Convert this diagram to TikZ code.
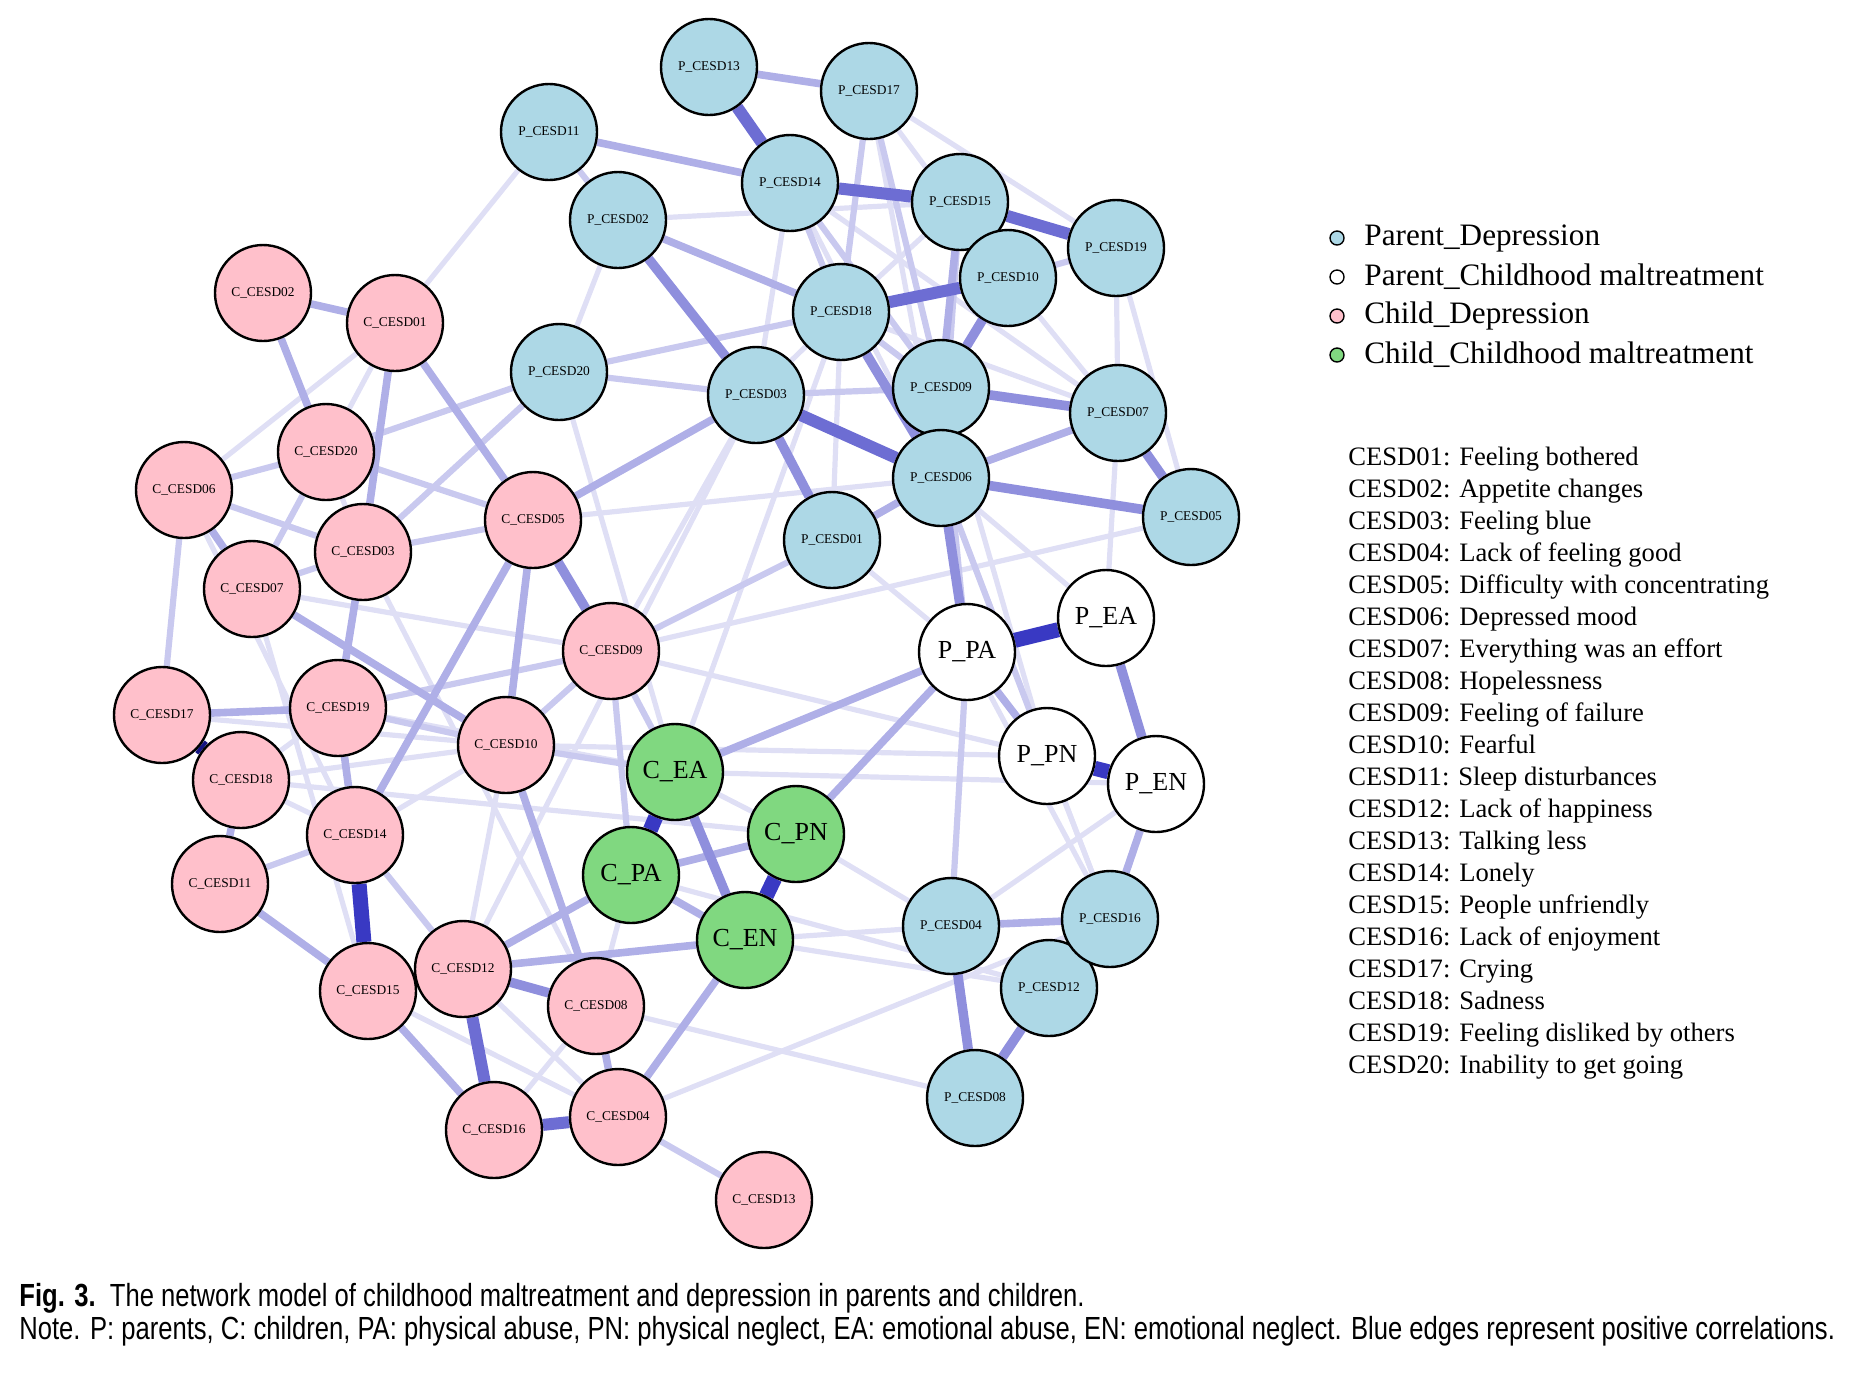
\documentclass[tikz,border=0pt]{standalone}
\usepackage{fontspec}
\setmainfont{Liberation Serif}
\newfontfamily\capfont{Liberation Sans}
\usetikzlibrary{backgrounds}

\definecolor{pdepfill}{RGB}{173,216,230}
\definecolor{cdepfill}{RGB}{255,192,203}
\definecolor{cmalfill}{RGB}{128,216,128}
\definecolor{edgeblue}{RGB}{40,40,190}
\definecolor{edgenavy}{RGB}{20,20,130}

\begin{document}
\begin{tikzpicture}[
    x=0.5pt, y=-0.5pt,
    item/.style={draw, circle, line width=1.2pt, minimum size=48pt, inner sep=0pt, font=\fontsize{6.7}{8}\selectfont},
    pdep/.style={item, fill=pdepfill},
    cdep/.style={item, fill=cdepfill},
    pmal/.style={item, fill=white, font=\fontsize{13}{15}\selectfont},
    cmal/.style={item, fill=cmalfill, font=\fontsize{13}{15}\selectfont},
    efaint/.style={line width=2.6pt, draw=edgeblue!15},
    elight/.style={line width=3.1pt, draw=edgeblue!25},
    emedium/.style={line width=3.8pt, draw=edgeblue!37},
    eheavy/.style={line width=4.8pt, draw=edgeblue!52},
    edeep/.style={line width=6pt, draw=edgeblue!68},
    edark/.style={line width=7.5pt, draw=edgeblue!92},
    legdot/.style={draw, circle, line width=0.7pt, minimum size=7pt, inner sep=0pt},
    legtext/.style={anchor=west, inner sep=0pt, font=\fontsize{15.6}{18}\selectfont}
]
\useasboundingbox (0,0) rectangle (1872,1378);

% Eltern: Depression
\node[pdep] (p13) at (709,67) {P\_CESD13};
\node[pdep] (p17) at (869,91) {P\_CESD17};
\node[pdep] (p11) at (549,132) {P\_CESD11};
\node[pdep] (p14) at (790,183) {P\_CESD14};
\node[pdep] (p15) at (960,202) {P\_CESD15};
\node[pdep] (p19) at (1116,248) {P\_CESD19};
\node[pdep] (p02) at (618,220) {P\_CESD02};
\node[pdep] (p10) at (1008,278) {P\_CESD10};
\node[pdep] (p18) at (841,312) {P\_CESD18};
\node[pdep] (p20) at (559,372) {P\_CESD20};
\node[pdep] (p03) at (756,395) {P\_CESD03};
\node[pdep] (p09) at (941,388) {P\_CESD09};
\node[pdep] (p07) at (1118,413) {P\_CESD07};
\node[pdep] (p06) at (941,478) {P\_CESD06};
\node[pdep] (p05) at (1191,517) {P\_CESD05};
\node[pdep] (p01) at (832,540) {P\_CESD01};
\node[pdep] (p04) at (951,926) {P\_CESD04};
\node[pdep] (p12) at (1049,988) {P\_CESD12};
\node[pdep] (p16) at (1110,919) {P\_CESD16};
\node[pdep] (p08) at (975,1098) {P\_CESD08};

% Eltern: Misshandlung
\node[pmal] (ppa) at (967,652) {P\_PA};
\node[pmal] (pea) at (1106,618) {P\_EA};
\node[pmal] (ppn) at (1047,756) {P\_PN};
\node[pmal] (pen) at (1156,784) {P\_EN};

% Kinder: Depression
\node[cdep] (c02) at (263,293) {C\_CESD02};
\node[cdep] (c01) at (395,323) {C\_CESD01};
\node[cdep] (c20) at (326,452) {C\_CESD20};
\node[cdep] (c06) at (184,490) {C\_CESD06};
\node[cdep] (c05) at (533,520) {C\_CESD05};
\node[cdep] (c03) at (363,552) {C\_CESD03};
\node[cdep] (c07) at (252,589) {C\_CESD07};
\node[cdep] (c09) at (611,651) {C\_CESD09};
\node[cdep] (c17) at (162,715) {C\_CESD17};
\node[cdep] (c19) at (338,708) {C\_CESD19};
\node[cdep] (c10) at (506,745) {C\_CESD10};
\node[cdep] (c18) at (241,780) {C\_CESD18};
\node[cdep] (c14) at (355,835) {C\_CESD14};
\node[cdep] (c11) at (220,884) {C\_CESD11};
\node[cdep] (c15) at (368,991) {C\_CESD15};
\node[cdep] (c12) at (463,969) {C\_CESD12};
\node[cdep] (c08) at (596,1006) {C\_CESD08};
\node[cdep] (c16) at (494,1130) {C\_CESD16};
\node[cdep] (c04) at (618,1117) {C\_CESD04};
\node[cdep] (c13) at (764,1200) {C\_CESD13};

% Kinder: Misshandlung
\node[cmal] (cea) at (675,772) {C\_EA};
\node[cmal] (cpn) at (796,834) {C\_PN};
\node[cmal] (cpa) at (631,875) {C\_PA};
\node[cmal] (cen) at (745,940) {C\_EN};

% Kanten (schwach zuerst)
\begin{scope}[on background layer]
\draw[efaint] (p11) -- (c01);
\draw[efaint] (p14) -- (p03);
\draw[efaint] (p14) -- (p06);
\draw[efaint] (p14) -- (p07);
\draw[efaint] (p17) -- (p06);
\draw[efaint] (p17) -- (p19);
\draw[efaint] (p17) -- (p10);
\draw[efaint] (p15) -- (p18);
\draw[efaint] (p02) -- (p15);
\draw[efaint] (p02) -- (p20);
\draw[efaint] (p19) -- (p07);
\draw[efaint] (p19) -- (p05);
\draw[efaint] (p10) -- (p07);
\draw[efaint] (p18) -- (p03);
\draw[efaint] (p18) -- (p07);
\draw[efaint] (p18) -- (p01);
\draw[efaint] (p18) -- (cea);
\draw[efaint] (p20) -- (cea);
\draw[efaint] (p03) -- (c09);
\draw[efaint] (p03) -- (c12);
\draw[efaint] (p09) -- (ppn);
\draw[efaint] (p07) -- (pea);
\draw[efaint] (p06) -- (pea);
\draw[efaint] (p06) -- (c05);
\draw[efaint] (p06) -- (p16);
\draw[efaint] (p01) -- (ppa);
\draw[efaint] (p05) -- (c09);
\draw[efaint] (pen) -- (p04);
\draw[efaint] (ppn) -- (p16);
\draw[efaint] (ppa) -- (p16);
\draw[efaint] (c08) -- (p08);
\draw[efaint] (c04) -- (p16);
\draw[efaint] (cpa) -- (p12);
\draw[efaint] (cen) -- (p12);
\draw[efaint] (cen) -- (p04);
\draw[efaint] (cpn) -- (p04);
\draw[efaint] (c09) -- (ppn);
\draw[efaint] (c10) -- (ppn);
\draw[efaint] (cea) -- (pen);
\draw[efaint] (cea) -- (cpn);
\draw[efaint] (cea) -- (c19);
\draw[efaint] (cpa) -- (c08);
\draw[efaint] (c18) -- (cpn);
\draw[efaint] (c02) -- (c03);
\draw[efaint] (c01) -- (c06);
\draw[efaint] (c01) -- (c20);
\draw[efaint] (c07) -- (c09);
\draw[efaint] (c07) -- (c15);
\draw[efaint] (c03) -- (c08);
\draw[efaint] (c17) -- (c10);
\draw[efaint] (c18) -- (c19);
\draw[efaint] (c18) -- (c10);
\draw[efaint] (c18) -- (c14);
\draw[efaint] (c06) -- (c14);
\draw[efaint] (c14) -- (c10);
\draw[efaint] (c15) -- (c04);
\draw[efaint] (c12) -- (c04);
\draw[efaint] (c08) -- (c16);
\draw[efaint] (c10) -- (c12);

\draw[elight] (p11) -- (p02);
\draw[elight] (p14) -- (p18);
\draw[elight] (p14) -- (p09);
\draw[elight] (p17) -- (p18);
\draw[elight] (p17) -- (p09);
\draw[elight] (p15) -- (p06);
\draw[elight] (p19) -- (p10);
\draw[elight] (p18) -- (p09);
\draw[elight] (p18) -- (p20);
\draw[elight] (p20) -- (p03);
\draw[elight] (p20) -- (c20);
\draw[elight] (p20) -- (c03);
\draw[elight] (p03) -- (p09);
\draw[elight] (p09) -- (ppa);
\draw[elight] (p06) -- (ppn);
\draw[elight] (p01) -- (c09);
\draw[elight] (ppa) -- (p04);
\draw[elight] (cea) -- (c09);
\draw[elight] (cea) -- (c10);
\draw[elight] (cpa) -- (c09);
\draw[elight] (c20) -- (c06);
\draw[elight] (c20) -- (c05);
\draw[elight] (c20) -- (c07);
\draw[elight] (c06) -- (c03);
\draw[elight] (c06) -- (c17);
\draw[elight] (c07) -- (c03);
\draw[elight] (c03) -- (c05);
\draw[elight] (c09) -- (c10);
\draw[elight] (c09) -- (c19);
\draw[elight] (c19) -- (c10);
\draw[elight] (c14) -- (c11);
\draw[elight] (c14) -- (c12);
\draw[elight] (c15) -- (c12);
\draw[elight] (c04) -- (c13);

\draw[emedium] (p13) -- (p17);
\draw[emedium] (p11) -- (p14);
\draw[emedium] (p15) -- (p09);
\draw[emedium] (p02) -- (p18);
\draw[emedium] (p03) -- (c05);
\draw[emedium] (p07) -- (p06);
\draw[emedium] (p06) -- (p01);
\draw[emedium] (ppa) -- (cea);
\draw[emedium] (ppa) -- (cpn);
\draw[emedium] (ppa) -- (ppn);
\draw[emedium] (pen) -- (p16);
\draw[emedium] (p04) -- (p16);
\draw[emedium] (p16) -- (p12);
\draw[emedium] (cpa) -- (cpn);
\draw[emedium] (cpa) -- (cen);
\draw[emedium] (cpa) -- (c12);
\draw[emedium] (cen) -- (c12);
\draw[emedium] (cen) -- (c04);
\draw[emedium] (c02) -- (c01);
\draw[emedium] (c02) -- (c20);
\draw[emedium] (c01) -- (c03);
\draw[emedium] (c01) -- (c05);
\draw[emedium] (c06) -- (c07);
\draw[emedium] (c07) -- (c10);
\draw[emedium] (c03) -- (c19);
\draw[emedium] (c05) -- (c10);
\draw[emedium] (c05) -- (c14);
\draw[emedium] (c17) -- (c19);
\draw[emedium] (c18) -- (c11);
\draw[emedium] (c19) -- (c14);
\draw[emedium] (c11) -- (c15);
\draw[emedium] (c15) -- (c16);
\draw[emedium] (c10) -- (c08);
\draw[emedium] (c08) -- (c04);

\draw[eheavy] (p02) -- (p03);
\draw[eheavy] (p10) -- (p09);
\draw[eheavy] (p18) -- (p06);
\draw[eheavy] (p03) -- (p01);
\draw[eheavy] (p09) -- (p07);
\draw[eheavy] (p07) -- (p05);
\draw[eheavy] (p06) -- (p05);
\draw[eheavy] (p06) -- (ppa);
\draw[eheavy] (pea) -- (pen);
\draw[eheavy] (p04) -- (p08);
\draw[eheavy] (p12) -- (p08);
\draw[eheavy] (cea) -- (cen);
\draw[eheavy] (c05) -- (c09);
\draw[eheavy] (c12) -- (c08);

\draw[edeep] (p13) -- (p14);
\draw[edeep] (p14) -- (p15);
\draw[edeep] (p15) -- (p19);
\draw[edeep] (p10) -- (p18);
\draw[edeep] (p03) -- (p06);
\draw[edeep] (c12) -- (c16);
\draw[edeep] (c16) -- (c04);

\draw[edark] (ppa) -- (pea);
\draw[edark] (ppn) -- (pen);
\draw[edark] (cea) -- (cpa);
\draw[edark] (cpn) -- (cen);
\draw[edark] (c14) -- (c15);
\draw[edark, draw=edgenavy] (c17) -- (c18);
\end{scope}

% Legende
\node[legdot, fill=pdepfill] (ldot1) at (1337,238) {};
\node[legdot, fill=white] (ldot2) at (1337,277) {};
\node[legdot, fill=cdepfill] (ldot3) at (1337,316) {};
\node[legdot, fill=cmalfill] (ldot4) at (1337,355) {};
\node[legtext] (ltext1) at (1364,238) {Parent\_Depression};
\node[legtext] (ltext2) at (1364,277) {Parent\_Childhood maltreatment};
\node[legtext] (ltext3) at (1364,316) {Child\_Depression};
\node[legtext] (ltext4) at (1364,355) {Child\_Childhood maltreatment};

\node[anchor=north west, inner sep=0pt, align=left, font=\fontsize{13.3}{16}\selectfont] (items) at (1348,447) {%
CESD01: Feeling bothered\\
CESD02: Appetite changes\\
CESD03: Feeling blue\\
CESD04: Lack of feeling good\\
CESD05: Difficulty with concentrating\\
CESD06: Depressed mood\\
CESD07: Everything was an effort\\
CESD08: Hopelessness\\
CESD09: Feeling of failure\\
CESD10: Fearful\\
CESD11: Sleep disturbances\\
CESD12: Lack of happiness\\
CESD13: Talking less\\
CESD14: Lonely\\
CESD15: People unfriendly\\
CESD16: Lack of enjoyment\\
CESD17: Crying\\
CESD18: Sadness\\
CESD19: Feeling disliked by others\\
CESD20: Inability to get going};

% Bildunterschrift
\node[anchor=west, inner sep=0pt, font=\capfont\fontsize{16}{18}\selectfont] (figcap) at (19,1298)
  {\scalebox{0.8}[1]{\textbf{Fig. 3.}\ \ The network model of childhood maltreatment and depression in parents and children.}};
\node[anchor=west, inner sep=0pt, font=\capfont\fontsize{16}{18}\selectfont] (fignote) at (19,1331)
  {\scalebox{0.8}[1]{Note. P: parents, C: children, PA: physical abuse, PN: physical neglect, EA: emotional abuse, EN: emotional neglect. Blue edges represent positive correlations.}};
\end{tikzpicture}
\end{document}
